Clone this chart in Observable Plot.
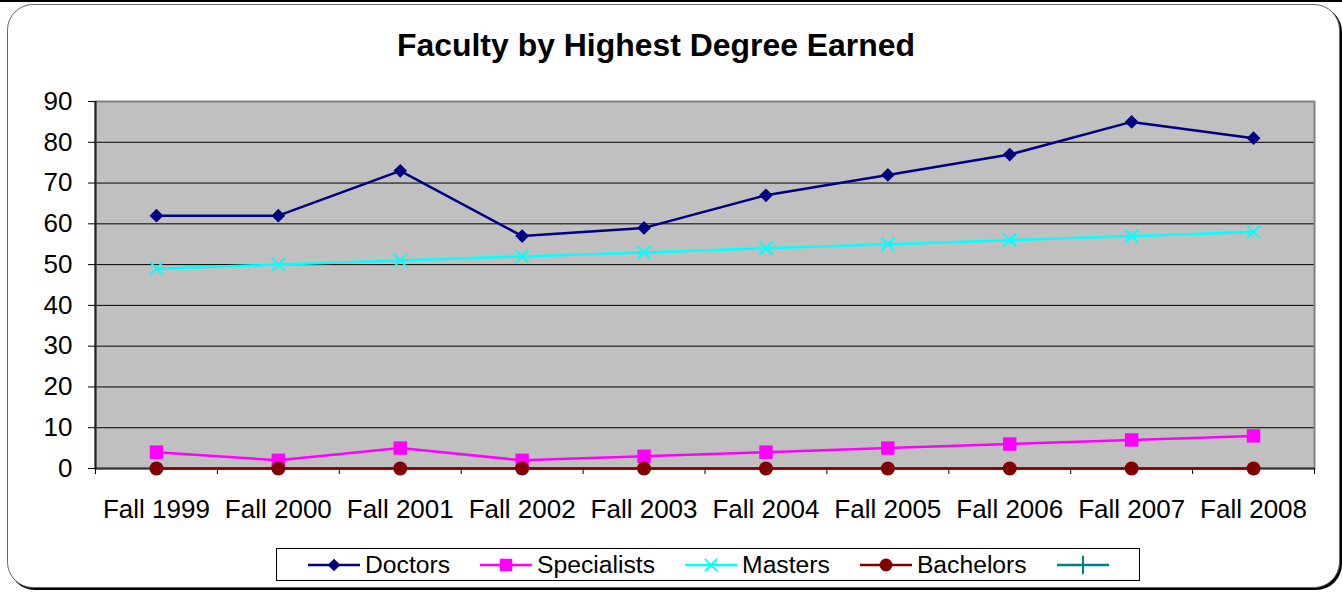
<!DOCTYPE html>
<html>
<head>
<meta charset="utf-8">
<script src="https://cdn.jsdelivr.net/npm/d3@7"></script>
<script src="https://cdn.jsdelivr.net/npm/@observablehq/plot@0.6"></script>
<style>
  body{margin:0;background:#fff;width:1342px;height:592px;overflow:hidden;position:relative;font-family:"Liberation Sans",Arial,sans-serif;}
  #topline{position:absolute;left:0;top:0;width:1342px;height:2px;background:#000;}
  #frame{position:absolute;left:7px;top:4px;width:1331px;height:582px;border:1px solid #666;border-radius:26px;box-shadow:2px 2px 0 #000;background:#fff;}
  #chart{position:absolute;left:0;top:0;}
  #title{position:absolute;left:0;top:0;}
  #legend{position:absolute;left:276px;top:548px;width:864px;height:33px;border:1px solid #000;box-sizing:border-box;display:flex;align-items:center;padding-left:31px;gap:30px;background:#fff;}
  .item{display:flex;align-items:center;font-size:24.7px;color:#000;}
  .item span{margin-left:5px;}
</style>
</head>
<body>
<div id="topline"></div>
<div id="frame"></div>
<div id="chart"></div>
<svg id="title" width="1342" height="80"><text x="656" y="56" text-anchor="middle" font-family="Liberation Sans, Arial, sans-serif" font-weight="bold" font-size="32" textLength="518" lengthAdjust="spacingAndGlyphs">Faculty by Highest Degree Earned</text></svg>
<div id="legend"></div>
<script>
const categories = ["Fall 1999","Fall 2000","Fall 2001","Fall 2002","Fall 2003","Fall 2004","Fall 2005","Fall 2006","Fall 2007","Fall 2008"];
const doctors     = [62,62,73,57,59,67,72,77,85,81];
const specialists = [4,2,5,2,3,4,5,6,7,8];
const masters     = [49,50,51,52,53,54,55,56,57,58];
const bachelors   = [0,0,0,0,0,0,0,0,0,0];
const yTicks = [0,10,20,30,40,50,60,70,80,90];
const seriesNames = ["Doctors","Specialists","Masters","Bachelors"];

const seriesValues = {Doctors: doctors, Specialists: specialists, Masters: masters, Bachelors: bachelors};
const styles = {
  Doctors:     {color:"#000080", symbol:"diamond2", r:6.2, filled:true},
  Specialists: {color:"#ff00ff", symbol:"square",   r:7.6, filled:true},
  Masters:     {color:"#00ffff", symbol:"times",    r:6.1, filled:false},
  Bachelors:   {color:"#800000", symbol:"circle",   r:7.0, filled:true}
};

const rows = [];
for (const s of seriesNames) categories.forEach((c, i) => rows.push({series: s, category: c, value: seriesValues[s][i]}));

const W = 1342, H = 592, ml = 95, mr = 28, mt = 101, mb = 124;
const step = (W - ml - mr) / categories.length;

const dataMarks = [];
for (const s of seriesNames) {
  const st = styles[s];
  const d = rows.filter(r => r.series === s);
  dataMarks.push(Plot.line(d, {x:"category", y:"value", stroke: st.color, strokeWidth: 2.5}));
  dataMarks.push(Plot.dot(d, st.filled
    ? {x:"category", y:"value", symbol: st.symbol, r: st.r, fill: st.color, stroke: "none"}
    : {x:"category", y:"value", symbol: st.symbol, r: st.r, fill: "none", stroke: st.color, strokeWidth: 2}));
}

const chart = Plot.plot({
  width: W, height: H,
  marginLeft: ml, marginRight: mr, marginTop: mt, marginBottom: mb,
  style: {background: "transparent", fontFamily: "Liberation Sans, Arial, sans-serif", color: "#000", overflow: "visible"},
  x: {type: "point", domain: categories, padding: 0.5, round: false, label: null},
  y: {domain: [0, 90], label: null},
  marks: [
    Plot.frame({fill: "#c0c0c0"}),
    Plot.ruleY(yTicks.filter(d => d > 0 && d < 90), {stroke: "#000", strokeWidth: 1}),
    Plot.frame({stroke: "#808080", strokeWidth: 2}),
    Plot.ruleY([0], {stroke: "#333", strokeWidth: 2}),
    Plot.ruleX([categories[0]], {dx: -step / 2, stroke: "#222", strokeWidth: 2}),
    Plot.axisY({ticks: yTicks, tickSize: 7, tickPadding: 16, fontSize: 26, label: null, stroke: "#000"}),
    Plot.axisX({tickSize: 6, tickFormat: () => "", dx: -step / 2, label: null, stroke: "#000"}),
    Plot.axisX([categories[categories.length - 1]], {tickSize: 6, tickFormat: () => "", dx: step / 2, label: null, stroke: "#000"}),
    Plot.axisX({tickSize: 0, tickPadding: 31, fontSize: 26, label: null}),
    ...dataMarks
  ]
});
document.getElementById("chart").appendChild(chart);

// legend
const legendEntries = seriesNames.map(s => ({name: s, ...styles[s]}));
legendEntries.push({name: "", color: "#008080", symbol: "plus", r: 6.5, filled: false});
const symMap = {diamond2: d3.symbolDiamond2, square: d3.symbolSquare, times: d3.symbolTimes, circle: d3.symbolCircle, plus: d3.symbolPlus};
const legend = d3.select("#legend");
for (const e of legendEntries) {
  const item = legend.append("div").attr("class", "item");
  const svg = item.append("svg").attr("width", 52).attr("height", 20);
  svg.append("line").attr("x1", 0).attr("x2", 52).attr("y1", 10).attr("y2", 10)
    .attr("stroke", e.color).attr("stroke-width", 2.5);
  const size = Math.PI * e.r * e.r * 0.85;
  const p = svg.append("path").attr("transform", "translate(26,10)")
    .attr("d", d3.symbol(symMap[e.symbol], size)());
  if (e.filled) p.attr("fill", e.color);
  else p.attr("fill", "none").attr("stroke", e.color).attr("stroke-width", 2);
  if (e.name) item.append("span").text(e.name);
}
</script>
</body>
</html>
